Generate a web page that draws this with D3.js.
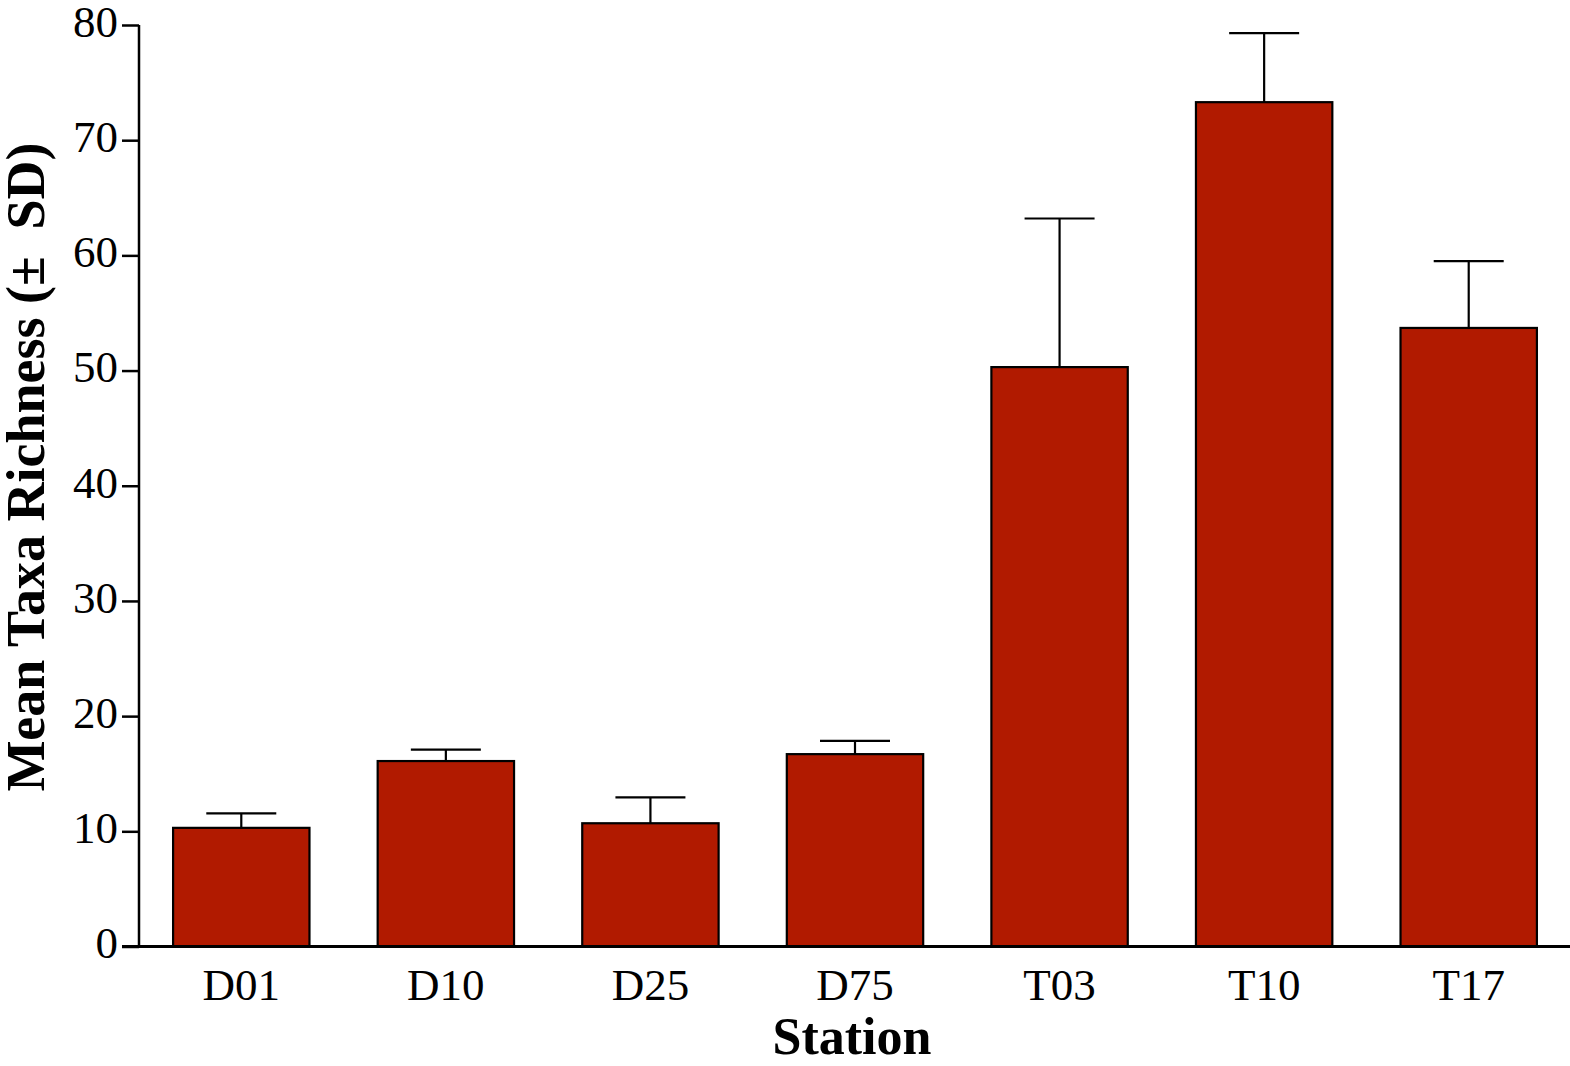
<!DOCTYPE html>
<html>
<head>
<meta charset="utf-8">
<script src="https://cdn.jsdelivr.net/npm/d3@7"></script>
<style>
  html, body { margin: 0; padding: 0; background: #fff; }
  svg { display: block; }
</style>
</head>
<body>
<svg id="chart" width="1570" height="1066"></svg>
<script>
// Mean taxa richness per sampling station with standard deviation
const stations = ["D01", "D10", "D25", "D75", "T03", "T10", "T17"];
const meanRichness = [10.3, 16.1, 10.7, 16.7, 50.3, 73.3, 53.7];
const sdRichness = [1.25, 1.0, 2.25, 1.15, 12.9, 6.0, 5.8];
const yTicks = [0, 10, 20, 30, 40, 50, 60, 70, 80];

const svg = d3.select("#chart");
const margin = { left: 139, right: -1, top: 25, bottom: 946.5 };

const x = d3.scaleBand()
  .domain(stations)
  .range([margin.left, 1570 - margin.right])
  .paddingInner(1 / 3)
  .paddingOuter(1 / 6);

const y = d3.scaleLinear()
  .domain([0, 80])
  .range([margin.bottom, margin.top]);

const serif = "'Liberation Serif', 'Times New Roman', Times, serif";

// Bars
svg.append("g")
  .selectAll("rect")
  .data(stations)
  .join("rect")
  .attr("x", d => x(d))
  .attr("y", (d, i) => y(meanRichness[i]))
  .attr("width", x.bandwidth())
  .attr("height", (d, i) => y(0) - y(meanRichness[i]))
  .attr("fill", "#b11a00")
  .attr("stroke", "#000")
  .attr("stroke-width", 2.2);

// Upper error bars (+ SD)
const capHalf = 35;
const err = svg.append("g").attr("stroke", "#000").attr("stroke-width", 2.2);
stations.forEach((s, i) => {
  const cx = x(s) + x.bandwidth() / 2;
  const top = y(meanRichness[i] + sdRichness[i]);
  err.append("line")
    .attr("x1", cx).attr("x2", cx)
    .attr("y1", y(meanRichness[i])).attr("y2", top);
  err.append("line")
    .attr("x1", cx - capHalf).attr("x2", cx + capHalf)
    .attr("y1", top).attr("y2", top);
});

// Y axis
const yAxis = svg.append("g")
  .attr("transform", `translate(${margin.left},0)`)
  .call(d3.axisLeft(y).tickValues(yTicks).tickSize(17).tickPadding(4).tickFormat(d3.format("d")));
yAxis.select(".domain").attr("stroke-width", 2.5).attr("d", `M0,${margin.top}V${margin.bottom}`);
yAxis.selectAll(".tick line").attr("stroke-width", 2.5);
yAxis.selectAll(".tick text")
  .attr("font-family", serif)
  .attr("font-size", 45)
  .attr("fill", "#000")
  .attr("dy", "0.25em");

// X axis
const xAxis = svg.append("g")
  .attr("transform", `translate(0,${margin.bottom})`)
  .call(d3.axisBottom(x).tickSize(0).tickPadding(0));
xAxis.select(".domain").attr("stroke-width", 2.8).attr("d", `M${margin.left - 17},0H1570`);
xAxis.selectAll(".tick text")
  .attr("font-family", serif)
  .attr("font-size", 45)
  .attr("fill", "#000")
  .attr("dy", null)
  .attr("y", 53);

// Axis titles
svg.append("text")
  .attr("x", 852)
  .attr("y", 1054)
  .attr("text-anchor", "middle")
  .attr("font-family", serif)
  .attr("font-weight", "bold")
  .attr("font-size", 52)
  .text("Station");

svg.append("text")
  .attr("transform", `translate(44,467) rotate(-90)`)
  .attr("text-anchor", "middle")
  .attr("font-family", serif)
  .attr("font-weight", "bold")
  .attr("font-size", 54)
  .text("Mean Taxa Richness (±\u00A0 SD)");
</script>
</body>
</html>
